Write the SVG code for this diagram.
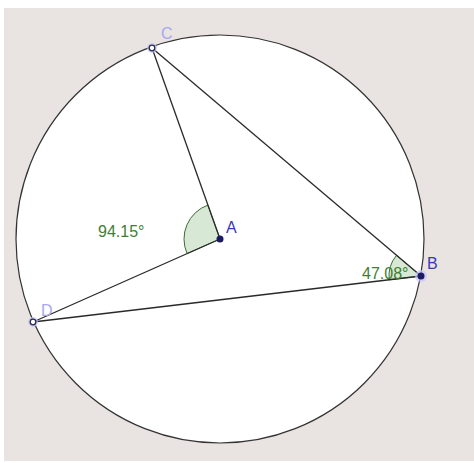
<svg xmlns="http://www.w3.org/2000/svg" width="474" height="463" viewBox="0 0 474 463">
<style>
.seg{stroke:#2a2a2a;stroke-width:1.3;fill:none}
.ang{fill:#d7e8d4;stroke:#3d6b35;stroke-width:1}
.val{font-family:"Liberation Sans",Arial,sans-serif;font-size:16px;fill:#3f7f30}
.lblA{font-family:"Liberation Sans",Arial,sans-serif;font-size:16px;fill:#3a3ab0}
.lblF{font-family:"Liberation Sans",Arial,sans-serif;font-size:16px;fill:#a8a8ee}
.halo{fill:#c4c4ff;opacity:0.7}
</style>
<rect x="0" y="0" width="474" height="463" fill="#ffffff"/>
<rect x="4" y="8" width="470" height="453" fill="#e9e3e2"/>
<g id="circle">
<circle cx="220" cy="239" r="204" fill="#ffffff" stroke="#333333" stroke-width="1.2"/>
</g>
<g id="angles">
<path class="ang" d="M220,239 L207.9,205.1 A36,36 0 0 0 187.1,253.6 Z"/>
<path class="ang" d="M421,276 L396.6,255.3 A32,32 0 0 0 389.2,279.8 Z"/>
</g>
<g id="connectors">
<line class="seg" x1="152" y1="48" x2="220" y2="239"/>
<line class="seg" x1="33" y1="322" x2="220" y2="239"/>
<line class="seg" x1="152" y1="48" x2="421" y2="276"/>
<line class="seg" x1="33" y1="322" x2="421" y2="276"/>
</g>
<g id="A">
<circle cx="220" cy="239" r="3.5" fill="#1a1a5e"/>
<text class="lblA" x="226" y="233">A</text>
</g>
<g id="B">
<circle class="halo" cx="421" cy="276" r="6"/>
<circle cx="421" cy="276" r="3.5" fill="#1a1a5e"/>
<text class="lblA" x="427" y="269">B</text>
</g>
<g id="C">
<circle class="halo" cx="152" cy="48" r="5"/>
<circle cx="152" cy="48" r="2.8" fill="#ffffff" stroke="#2a2a4a" stroke-width="1.3"/>
<text class="lblF" x="161" y="39">C</text>
</g>
<g id="D">
<circle class="halo" cx="33" cy="322" r="5"/>
<circle cx="33" cy="322" r="2.8" fill="#ffffff" stroke="#2a2a4a" stroke-width="1.3"/>
<text class="lblF" x="41" y="316">D</text>
</g>
<g id="labels">
<text class="val" x="98" y="237">94.15°</text>
<text class="val" x="362" y="279">47.08°</text>
</g>
</svg>
